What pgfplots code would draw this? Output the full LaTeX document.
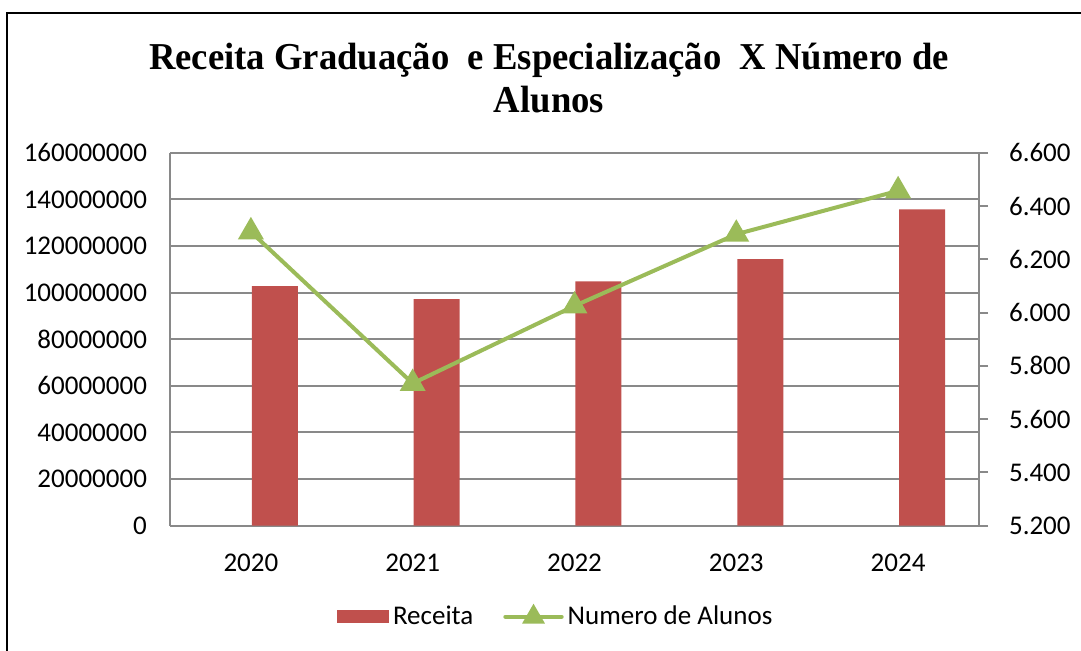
\documentclass[border=0pt]{standalone}
\usepackage{pgfplots}
\pgfplotsset{compat=1.18}
\usepackage{fontspec}
\setmainfont{Carlito}
\newfontfamily\titlefont{Liberation Serif}

\definecolor{barred}{HTML}{C0504D}
\definecolor{linegreen}{HTML}{9BBB59}
\definecolor{gridgray}{HTML}{898989}

% 1 px of the reference = 0.5pt
\begin{document}
\begin{tikzpicture}
\useasboundingbox (-85pt,-62.15pt) rectangle (455.5pt,262.85pt);
\draw[line width=1.4pt] (-81.5pt,-70pt) -- (-81.5pt,256.35pt) -- (470pt,256.35pt);
\node[font=\titlefont\bfseries\fontsize{19}{21.5}\selectfont, align=center, xscale=0.965]
  at (189.5pt,223.85pt) {Receita Graduação \ e Especialização \ X Número de\\Alunos};

\begin{axis}[
    at={(0pt,0pt)}, anchor=south west,
    width=404.5pt, height=186.5pt, scale only axis,
    xmin=-0.5, xmax=4.5,
    ymin=0, ymax=160000000,
    ytick={0,20000000,40000000,60000000,80000000,100000000,120000000,140000000,160000000},
    scaled y ticks=false,
    xtick={0,1,2,3,4},
    xticklabels={2020,2021,2022,2023,2024},
    axis x line*=bottom, axis y line*=left,
    axis line style={gridgray, line width=1pt},
    ymajorgrids, grid style={gridgray, line width=1pt},
    major tick length=0pt,
    tick label style={font=\fontsize{13.5}{15}\selectfont, black},
    yticklabel style={/pgf/number format/fixed, /pgf/number format/1000 sep={}, xshift=-8pt},
    xticklabel style={yshift=-10.5pt},
    /pgf/number format/assume math mode=true,
    legend columns=2,
    legend style={draw=none, at={(0.478,-0.244)}, anchor=center,
                  font=\fontsize{13.5}{15}\selectfont,
                  /tikz/every even column/.append style={column sep=13pt}},
]
\addplot[ybar, bar width=23pt, bar shift=12pt, fill=barred, draw=none,
  area legend,
  legend image code/.code={\fill[barred] (0pt,-3.3pt) rectangle (26pt,3.3pt);}]
  coordinates {(0,102800000) (1,97200000) (2,104800000) (3,114400000) (4,135700000)};
\addlegendentry{Receita}
\addlegendimage{linegreen, line width=2pt,
  legend image code/.code={
    \draw[linegreen, line width=2.2pt, line cap=round] (0pt,0pt) -- (28pt,0pt);
    \fill[linegreen] (14pt,0pt) ++(90:4.5pt) -- ++(-120:8pt) -- ++(0:8pt) -- cycle;}}
\addlegendentry{Numero de Alunos}
\end{axis}

\begin{axis}[
    at={(0pt,0pt)}, anchor=south west,
    width=404.5pt, height=186.5pt, scale only axis,
    xmin=-0.5, xmax=4.5,
    ymin=5200, ymax=6600,
    ytick={5200,5400,5600,5800,6000,6200,6400,6600},
    axis x line=none, axis y line*=right,
    axis line style={gridgray, line width=1pt},
    tick style={gridgray, line width=1pt},
    tick align=outside, major tick length=4.5pt,
    tick label style={font=\fontsize{13.5}{15}\selectfont, black},
    yticklabel style={/pgf/number format/fixed, /pgf/number format/precision=0,
                      /pgf/number format/1000 sep={.}, xshift=7pt},
    /pgf/number format/assume math mode=true,
]
\addplot[linegreen, line width=2pt, mark=triangle*, mark size=5.5pt,
  mark options={solid}]
  coordinates {(0,6303) (1,5734) (2,6025) (3,6294) (4,6457)};
\end{axis}
\end{tikzpicture}
\end{document}
